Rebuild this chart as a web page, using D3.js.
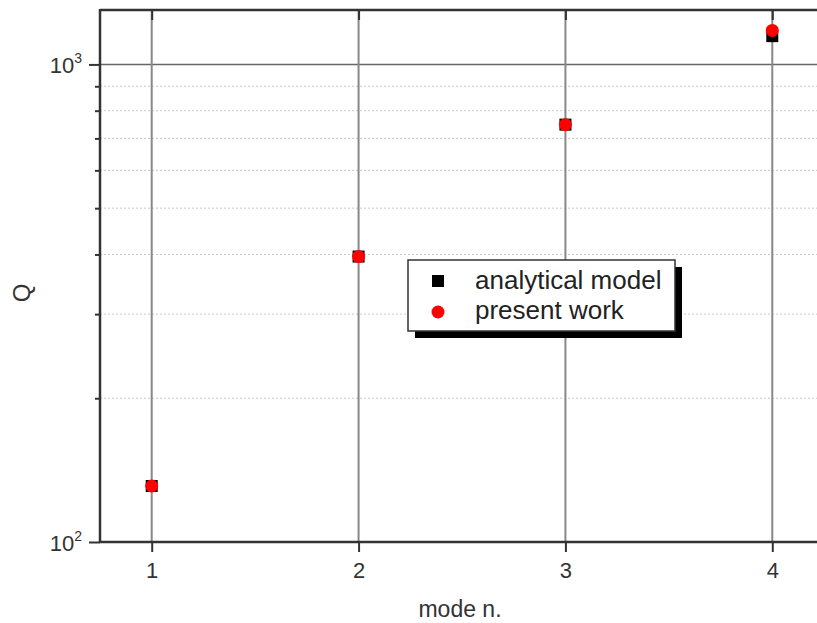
<!DOCTYPE html>
<html>
<head>
<meta charset="utf-8">
<script src="https://cdn.jsdelivr.net/npm/d3@7"></script>
<style>
  body { margin: 0; background: #fff; }
  svg { font-family: 'Liberation Sans', Arial, sans-serif; }
</style>
</head>
<body>
<svg id="canvas"></svg>
<script>
let modes = [1, 2, 3, 4]
let analytical = [131, 396, 748, 1146]
let present = [131, 396, 748, 1178]
let xTicks = [1, 2, 3, 4]
let yMajor = [100, 1000]
let yMinor = [200, 300, 400, 500, 600, 700, 800, 900]
let seriesNames = ['analytical model', 'present work']

let width = 817
let height = 623
let plotLeft = 100, plotRight = 824, plotTop = 10, plotBottom = 542

let canvas = d3.select('#canvas').attr('width', width).attr('height', height)

let xScale = d3.scaleLinear().domain([0.75, 4.25]).range([plotLeft, plotRight])
let yScale = d3.scaleLog().domain([100, 1300]).range([plotBottom, plotTop])

// grid
canvas.selectAll('.minor')
    .data(yMinor)
    .enter().append('line')
    .attr('x1', plotLeft).attr('x2', plotRight)
    .attr('y1', d => yScale(d)).attr('y2', d => yScale(d))
    .attr('stroke', '#c8c8c8').attr('stroke-width', 1)
    .attr('stroke-dasharray', '2,2')

canvas.selectAll('.majorh')
    .data(yMajor)
    .enter().append('line')
    .attr('x1', plotLeft).attr('x2', plotRight)
    .attr('y1', d => yScale(d)).attr('y2', d => yScale(d))
    .attr('stroke', '#666').attr('stroke-width', 1.5)

canvas.selectAll('.majorv')
    .data(xTicks)
    .enter().append('line')
    .attr('x1', d => xScale(d)).attr('x2', d => xScale(d))
    .attr('y1', plotTop).attr('y2', plotBottom)
    .attr('stroke', '#888').attr('stroke-width', 2)

// axes
let xAxis = d3.axisBottom(xScale).tickValues(xTicks).tickFormat(d3.format('d')).tickSize(10).tickPadding(10)
let gx = canvas.append('g').attr('transform', `translate(0, ${plotBottom})`).call(xAxis)
gx.select('.domain').remove()
gx.selectAll('.tick line').attr('stroke', '#333').attr('stroke-width', 2)
gx.selectAll('.tick text').attr('font-size', 22).attr('fill', '#333')

let xTop = d3.axisBottom(xScale).tickValues(xTicks).tickFormat('').tickSize(10)
let gxt = canvas.append('g').attr('transform', `translate(0, ${plotTop})`).call(xTop)
gxt.select('.domain').remove()
gxt.selectAll('.tick line').attr('stroke', '#333').attr('stroke-width', 2)

let yAxisMinor = d3.axisLeft(yScale).tickValues(yMinor).tickFormat('').tickSize(5)
let gym = canvas.append('g').attr('transform', `translate(${plotLeft}, 0)`).call(yAxisMinor)
gym.select('.domain').remove()
gym.selectAll('.tick line').attr('stroke', '#333').attr('stroke-width', 2)

let yAxis = d3.axisLeft(yScale).tickValues(yMajor).tickFormat('').tickSize(11)
let gy = canvas.append('g').attr('transform', `translate(${plotLeft}, 0)`).call(yAxis)
gy.select('.domain').remove()
gy.selectAll('.tick line').attr('stroke', '#333').attr('stroke-width', 2)
gy.selectAll('.tick').append('text')
    .attr('x', -18).attr('y', 8)
    .attr('text-anchor', 'end')
    .attr('font-size', 22).attr('fill', '#333')
    .each(function (d) {
        let t = d3.select(this)
        t.append('tspan').text('10')
        t.append('tspan').attr('font-size', 14).attr('dy', -10).text(Math.round(Math.log10(d)))
    })

// frame
canvas.append('line').attr('x1', plotLeft).attr('x2', plotLeft).attr('y1', plotTop - 1).attr('y2', plotBottom + 1)
    .attr('stroke', '#333').attr('stroke-width', 2.5)
canvas.append('line').attr('x1', plotLeft).attr('x2', plotRight).attr('y1', plotTop).attr('y2', plotTop)
    .attr('stroke', '#333').attr('stroke-width', 2.5)
canvas.append('line').attr('x1', plotLeft).attr('x2', plotRight).attr('y1', plotBottom).attr('y2', plotBottom)
    .attr('stroke', '#333').attr('stroke-width', 2.5)

// data
canvas.selectAll('.sq')
    .data(modes)
    .enter().append('rect')
    .attr('x', (d, i) => xScale(d) - 6)
    .attr('y', (d, i) => yScale(analytical[i]) - 6)
    .attr('width', 12).attr('height', 12)
    .attr('fill', '#000')

canvas.selectAll('.pt')
    .data(modes)
    .enter().append('circle')
    .attr('cx', d => xScale(d))
    .attr('cy', (d, i) => yScale(present[i]))
    .attr('r', 6.5)
    .attr('fill', '#ff0000')

// labels
canvas.append('text')
    .attr('x', xScale(2.5) - 2).attr('y', 617)
    .attr('text-anchor', 'middle')
    .attr('font-size', 23).attr('fill', '#333')
    .text('mode n.')

canvas.append('text')
    .attr('transform', 'translate(30, 293) rotate(-90)')
    .attr('text-anchor', 'middle')
    .attr('font-size', 24).attr('fill', '#333')
    .text('Q')

// legend
let lg = canvas.append('g').attr('transform', 'translate(408, 260)')
lg.append('rect').attr('x', 7).attr('y', 7).attr('width', 267).attr('height', 71).attr('fill', '#000')
lg.append('rect').attr('x', 0).attr('y', 0).attr('width', 267).attr('height', 71)
    .attr('fill', '#fff').attr('stroke', '#333').attr('stroke-width', 1.5)
lg.append('rect').attr('x', 24).attr('y', 15).attr('width', 12).attr('height', 12).attr('fill', '#000')
lg.append('circle').attr('cx', 30).attr('cy', 52).attr('r', 6.5).attr('fill', '#ff0000')
lg.selectAll('.lt')
    .data(seriesNames)
    .enter().append('text')
    .attr('x', 67).attr('y', (d, i) => 29 + i * 30)
    .attr('font-size', 26).attr('fill', '#222')
    .text(d => d)
</script>
</body>
</html>
